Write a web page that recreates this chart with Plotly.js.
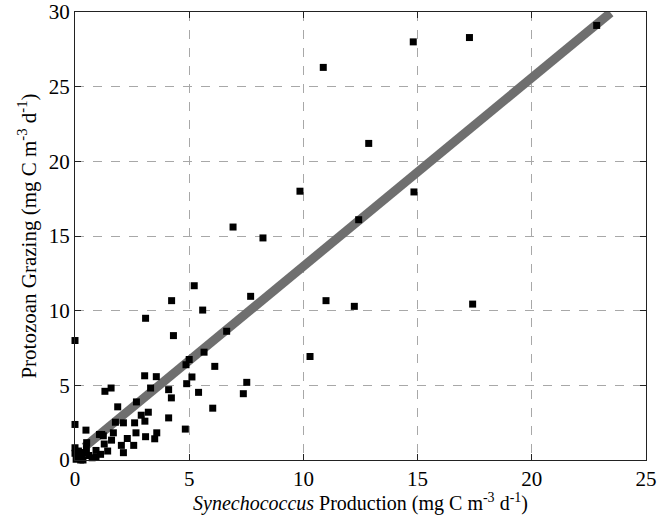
<!DOCTYPE html>
<html>
<head>
<meta charset="utf-8">
<script src="https://cdn.plot.ly/plotly-3.0.1.min.js"></script>
<style>html,body{margin:0;padding:0;background:#fff;}#chart{width:670px;height:515px;}</style>
</head>
<body>
<div id="chart"></div>
<script>
// Synechococcus production (x) vs protozoan grazing (y), mg C m-3 d-1
const prodX = [22.84, 17.27, 14.81, 10.87, 12.86, 9.85, 14.84, 12.42, 6.92, 8.23,
  10.99, 12.23, 17.41, 10.29,
  0.0, 0.0, 5.22, 7.69, 4.23, 5.59, 3.09, 4.31, 6.64, 5.65,
  5.0, 4.86, 6.12, 3.05, 3.56, 5.12, 4.89, 7.52, 3.31, 1.58,
  1.31, 4.1, 7.37, 5.41, 4.22, 2.69, 1.87, 6.03, 3.21, 2.9,
  3.06, 4.1, 1.77, 2.12, 2.61, 0.48, 4.83, 1.68, 2.67, 3.58,
  1.07, 3.09, 1.24, 3.49, 2.29, 1.6, 0.51, 1.28, 2.03, 2.57,
  0.0, 0.92, 1.43, 2.12, 1.12, 1.56,
  0.1, 0.2, 0.3, 0.15, 0.4, 0.5, 0.05, 0.25, 0.0, 0.6, 0.75, 0.35, 0.92, 1.17];
const grazY = [29.1, 28.29, 28.0, 26.29, 21.2, 18.0, 17.95, 16.09, 15.6, 14.87,
  10.67, 10.29, 10.44, 6.93,
  8.0, 2.38, 11.67, 10.96, 10.67, 10.04, 9.49, 8.33, 8.62, 7.22,
  6.73, 6.38, 6.27, 5.64, 5.58, 5.56, 5.11, 5.2, 4.82, 4.82,
  4.6, 4.71, 4.44, 4.53, 4.16, 3.89, 3.56, 3.47, 3.2, 3.0,
  2.6, 2.82, 2.53, 2.49, 2.49, 2.0, 2.07, 1.82, 1.82, 1.82,
  1.71, 1.56, 1.62, 1.42, 1.44, 1.33, 1.16, 1.07, 0.98, 0.98,
  0.82, 0.64, 0.6, 0.49, 0.38, -0.05,
  0.3, 0.1, 0.2, 0.6, 0.5, 0.75, 0.05, 0.0, 0.45, 0.3, 0.15, 0.0, 0.18, 1.71];
// regression line end points
const fitX = [0.42, 23.45];
const fitY = [0.88, 29.95];
const xTicks = [0, 5, 10, 15, 20, 25];
const yTicks = [0, 5, 10, 15, 20, 25, 30];

const font = 'Liberation Serif, Times New Roman, serif';
const traces = [
  {x: fitX, y: fitY, mode: 'lines', type: 'scatter',
   line: {color: '#6f6f6f', width: 9}, hoverinfo: 'skip'},
  {x: prodX, y: grazY, mode: 'markers', type: 'scatter',
   marker: {symbol: 'square', size: 7, color: '#000'}, cliponaxis: false}
];
const axisCommon = {
  showline: true, linecolor: '#222', linewidth: 1, mirror: 'ticks',
  ticks: 'inside', ticklen: 6, tickcolor: '#222', tickwidth: 1,
  showgrid: true, gridcolor: '#a8a8a8', gridwidth: 1, griddash: 'dash',
  zeroline: false, ticklabeloverflow: 'allow',
  tickfont: {family: font, size: 21, color: '#000'}
};
const layout = {
  width: 670, height: 515,
  margin: {l: 75, r: 24, t: 12, b: 55},
  paper_bgcolor: '#fff', plot_bgcolor: '#fff',
  showlegend: false,
  font: {family: font, color: '#000'},
  xaxis: Object.assign({}, axisCommon, {
    range: [0, 25], tickvals: xTicks, ticktext: xTicks.map(String),
    title: {text: '<i>Synechococcus</i> Production (mg C m<sup>-3</sup> d<sup>-1</sup>)',
            font: {family: font, size: 20, color: '#000'}, standoff: 7}
  }),
  yaxis: Object.assign({}, axisCommon, {
    range: [0, 30], tickvals: yTicks, ticktext: yTicks.map(String),
    title: {text: 'Protozoan Grazing (mg C m<sup>-3</sup> d<sup>-1</sup>)',
            font: {family: font, size: 21, color: '#000'}, standoff: 6}
  })
};
Plotly.newPlot('chart', traces, layout, {displayModeBar: false, staticPlot: true});
</script>
</body>
</html>
